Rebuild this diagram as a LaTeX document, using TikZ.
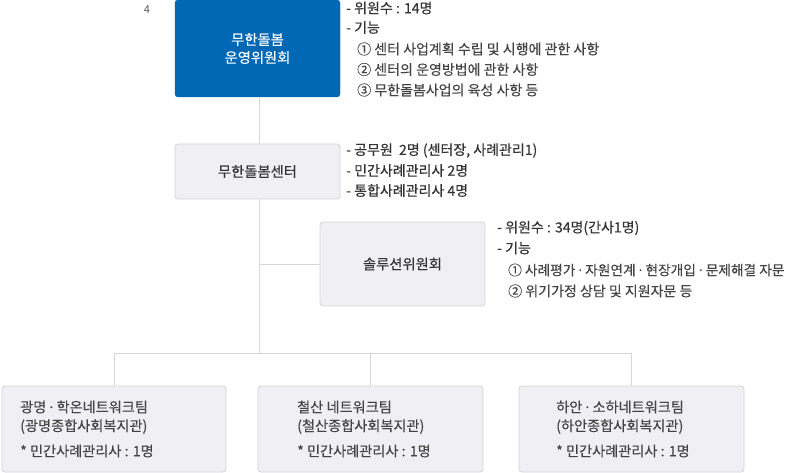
\documentclass[tikz,border=0pt]{standalone}
\usepackage{fontspec}
\setmainfont{Noto Sans CJK KR}
\newfontfamily\semib{Noto Sans CJK KR}[FakeBold=0.5]
\newfontfamily\medf{Noto Sans CJK KR}[FakeBold=0.25]
\newcommand{\mdotsep}{\hspace{0.18em}\makebox[0.36em]{·}\hspace{0.18em}}
\definecolor{topblue}{HTML}{0068B5}
\definecolor{boxfill}{HTML}{F0F0F4}
\definecolor{boxline}{HTML}{D2D2D8}
\definecolor{conn}{HTML}{D6D6D6}
\definecolor{txtdark}{HTML}{333333}
\definecolor{txtmid}{HTML}{444444}
\definecolor{txtlight}{HTML}{5A5A5A}
\tikzset{
  bluebox/.style={draw=topblue, fill=topblue, rounded corners=3pt, text=white,
    minimum width=165pt, minimum height=97pt, align=center,
    font=\medf\fontsize{14.3}{18}\selectfont, inner sep=0pt},
  greybox/.style={draw=boxline, fill=boxfill, rounded corners=3pt, text=txtdark,
    line width=0.8pt, font=\medf\fontsize{14.3}{18}\selectfont, inner sep=0pt},
  connector/.style={draw=conn, line width=0.9pt},
  note/.style={anchor=west, inner sep=0pt, font=\medf\fontsize{14}{15}\selectfont, text=txtmid},
  notehead/.style={note, text=txtdark, font=\semib\fontsize{14}{15}\selectfont},
  boxtext/.style={anchor=west, inner sep=0pt, font=\medf\fontsize{14.2}{15}\selectfont, text=txtmid},
}
\begin{document}
\begin{tikzpicture}[x=1pt,y=-1pt]
\useasboundingbox (0,0) rectangle (801,473);
% boxes
\node[bluebox] (top) at (257.5,48.5) {무한돌봄\\운영위원회};
\node[greybox, minimum width=165pt, minimum height=55pt] (center) at (257.5,171.5) {무한돌봄센터};
\node[greybox, minimum width=165pt, minimum height=84pt] (sol) at (402.5,264) {솔루션위원회};
\node[greybox, minimum width=224pt, minimum height=86pt] (b1) at (114,429) {};
\node[greybox, minimum width=225pt, minimum height=86pt] (b2) at (370.5,429) {};
\node[greybox, minimum width=225pt, minimum height=86pt] (b3) at (631.5,429) {};
% connectors
\coordinate (bus) at (259,353);
\coordinate (solj) at (259,264);
\draw[connector] (top.south -| bus) -- (center.north -| bus);
\draw[connector] (center.south -| bus) -- (bus);
\draw[connector] (solj) -- (sol.west);
\draw[connector] (b1.north) -- (b1.north |- bus) -- (b3.north |- bus) -- (b3.north);
\draw[connector] (b2.north) -- (b2.north |- bus);
% page number
\node[anchor=center, inner sep=0pt, font=\fontsize{11}{12}\selectfont, text=txtlight] (pg) at (147,10) {4};
% top notes
\node[notehead] (t1) at (346,8) {- 위원수 : 14명};
\node[notehead] (t2) at (346,27.5) {- 기능};
\node[note] (t3) at (357,49) {① 센터 사업계획 수립 및 시행에 관한 사항};
\node[note] (t4) at (357,69.5) {② 센터의 운영방법에 관한 사항};
\node[note] (t5) at (357,90) {③ 무한돌봄사업의 육성 사항 등};
% center notes
\node[notehead] (c1) at (346,150.5) {- 공무원 \ 2명 (센터장, 사례관리1)};
\node[notehead] (c2) at (346,170.5) {- 민간사례관리사 2명};
\node[notehead] (c3) at (346,190.5) {- 통합사례관리사 4명};
% solution notes
\node[notehead] (s1) at (497,228) {- 위원수 : 34명(간사1명)};
\node[notehead] (s2) at (497,248) {- 기능};
\node[note, font=\medf\fontsize{13.7}{15}\selectfont] (s3) at (508,270) {① 사례평가\mdotsep 자원연계\mdotsep 현장개입\mdotsep 문제해결 자문};
\node[note] (s4) at (508,291) {② 위기가정 상담 및 지원자문 등};
% bottom box texts
\node[boxtext] (b1a) at (20,407) {광명\mdotsep 학온네트워크팀};
\node[boxtext] (b1b) at (20,426.5) {(광명종합사회복지관)};
\node[boxtext] (b1c) at (20,451) {* 민간사례관리사 : 1명};
\node[boxtext] (b2a) at (297,407) {철산 네트워크팀};
\node[boxtext] (b2b) at (297,426.5) {(철산종합사회복지관)};
\node[boxtext] (b2c) at (297,451) {* 민간사례관리사 : 1명};
\node[boxtext] (b3a) at (556,407) {하안\mdotsep 소하네트워크팀};
\node[boxtext] (b3b) at (556,426.5) {(하안종합사회복지관)};
\node[boxtext] (b3c) at (556,451) {* 민간사례관리사 : 1명};
\end{tikzpicture}
\end{document}
